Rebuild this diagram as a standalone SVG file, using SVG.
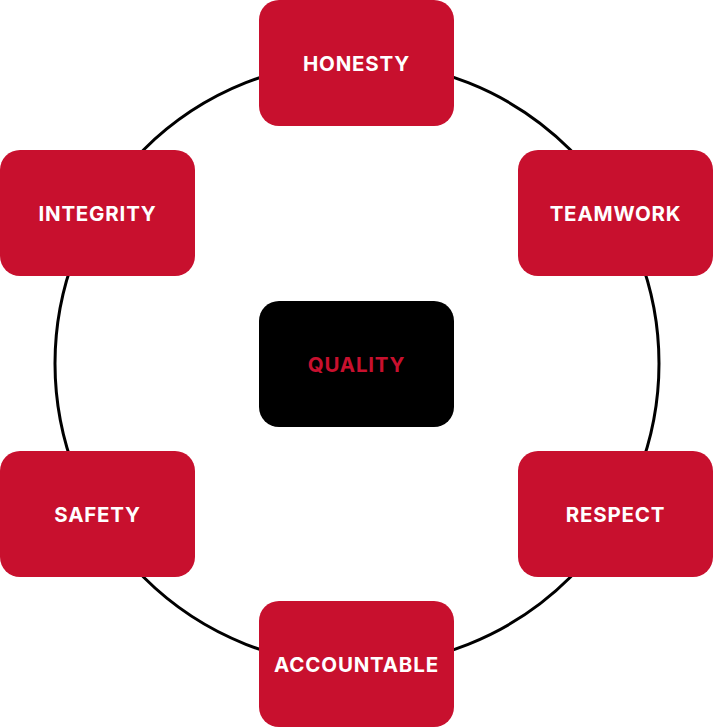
<svg xmlns="http://www.w3.org/2000/svg" width="713" height="727" viewBox="0 0 713 727">
<style>
.box{fill:#C8102E}
.center{fill:#000}
.lbl{font-family:Inter,"Open Sans","Liberation Sans",sans-serif;font-weight:700;font-size:20.5px;letter-spacing:0.8px;fill:#fff;text-anchor:middle;dominant-baseline:central}
.clbl{fill:#C8102E}
</style>
<rect width="713" height="727" fill="#fff"/>
<g id="connectors">
<circle cx="357" cy="363.5" r="302" fill="none" stroke="#000" stroke-width="3"/>
</g>
<g id="honesty"><rect class="box" x="259" y="0" width="195" height="126" rx="20"/><text class="lbl" x="356.5" y="63">HONESTY</text></g>
<g id="teamwork"><rect class="box" x="518" y="150" width="195" height="126" rx="20"/><text class="lbl" x="615.5" y="213">TEAMWORK</text></g>
<g id="integrity"><rect class="box" x="0" y="150" width="195" height="126" rx="20"/><text class="lbl" x="97.5" y="213">INTEGRITY</text></g>
<g id="quality"><rect class="center" x="259" y="301" width="195" height="126" rx="20"/><text class="lbl clbl" x="356.5" y="364">QUALITY</text></g>
<g id="safety"><rect class="box" x="0" y="451" width="195" height="126" rx="20"/><text class="lbl" x="97.5" y="514">SAFETY</text></g>
<g id="respect"><rect class="box" x="518" y="451" width="195" height="126" rx="20"/><text class="lbl" x="615.5" y="514">RESPECT</text></g>
<g id="accountable"><rect class="box" x="259" y="601" width="195" height="126" rx="20"/><text class="lbl" x="356.5" y="664">ACCOUNTABLE</text></g>
</svg>
